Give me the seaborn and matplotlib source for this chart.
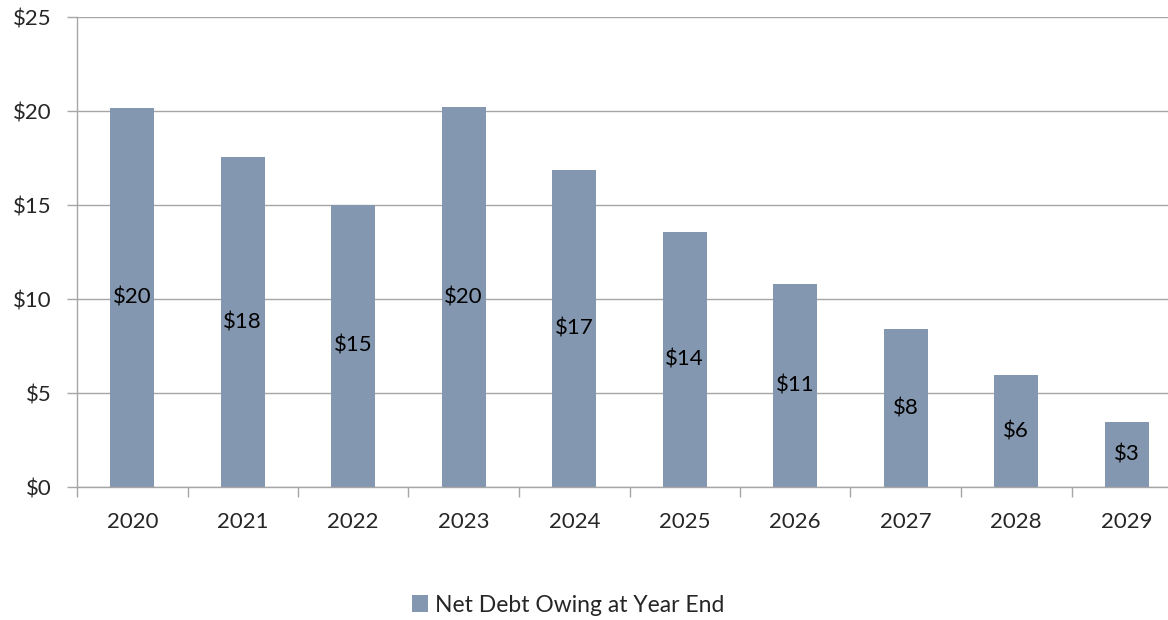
import matplotlib
matplotlib.use("Agg")
import matplotlib.pyplot as plt
import seaborn as sns
import pandas as pd
from matplotlib.ticker import MultipleLocator, FuncFormatter, FixedLocator

# datos
years = ["2020", "2021", "2022", "2023", "2024", "2025", "2026", "2027", "2028", "2029"]
net_debt = [20.15, 17.55, 15.0, 20.2, 16.86, 13.55, 10.8, 8.4, 5.95, 3.45]
bar_labels = ["$20", "$18", "$15", "$20", "$17", "$14", "$11", "$8", "$6", "$3"]

df = pd.DataFrame({"year": years, "debt": net_debt})

sns.set_style("white")
plt.rcParams["font.family"] = ["Lato", "DejaVu Sans"]

fig = plt.figure(figsize=(11.68, 6.2), dpi=100)
ax = fig.add_axes([77 / 1168, 133 / 620, 1105 / 1168, 470 / 620])

bar_color = "#8497B0"
sns.barplot(data=df, x="year", y="debt", color=bar_color, width=0.4, ax=ax,
            saturation=1, linewidth=0, label="Net Debt Owing at Year End")

ax.bar_label(ax.containers[0], labels=bar_labels, label_type="center", fontsize=16, color="black")

ax.set_xlim(-0.5, len(years) - 0.5)
ax.set_ylim(0, 25)
ax.yaxis.set_major_locator(MultipleLocator(5))
ax.yaxis.set_major_formatter(FuncFormatter(lambda v, p: f"${v:.0f}"))
ax.grid(axis="y", color="#a6a6a6", linewidth=1)
ax.set_axisbelow(True)

# marcas entre categorias
ax.xaxis.set_minor_locator(FixedLocator([i - 0.5 for i in range(len(years) + 1)]))
ax.tick_params(axis="x", which="major", length=0, labelsize=16, pad=18)
ax.tick_params(axis="x", which="minor", length=7, color="#a6a6a6", width=1)
ax.tick_params(axis="y", which="major", length=7, color="#a6a6a6", width=1, labelsize=16, pad=11)
ax.tick_params(direction="out")
ax.tick_params(axis="x", which="both", bottom=True)
ax.tick_params(axis="y", left=True)

for s in ["top", "right"]:
    ax.spines[s].set_visible(False)
for s in ["left", "bottom"]:
    ax.spines[s].set_color("#a6a6a6")
    ax.spines[s].set_linewidth(1)

ax.set_xlabel("")
ax.set_ylabel("")

handles, labels = ax.get_legend_handles_labels()
fig.legend(handles, labels, loc="center", bbox_to_anchor=(568 / 1168, 1 - 605 / 620),
           frameon=False, fontsize=16.5, handlelength=0.7, handleheight=0.7, handletextpad=0.3)
if ax.get_legend() is not None:
    ax.get_legend().remove()

fig.savefig("out.png", dpi=100)
